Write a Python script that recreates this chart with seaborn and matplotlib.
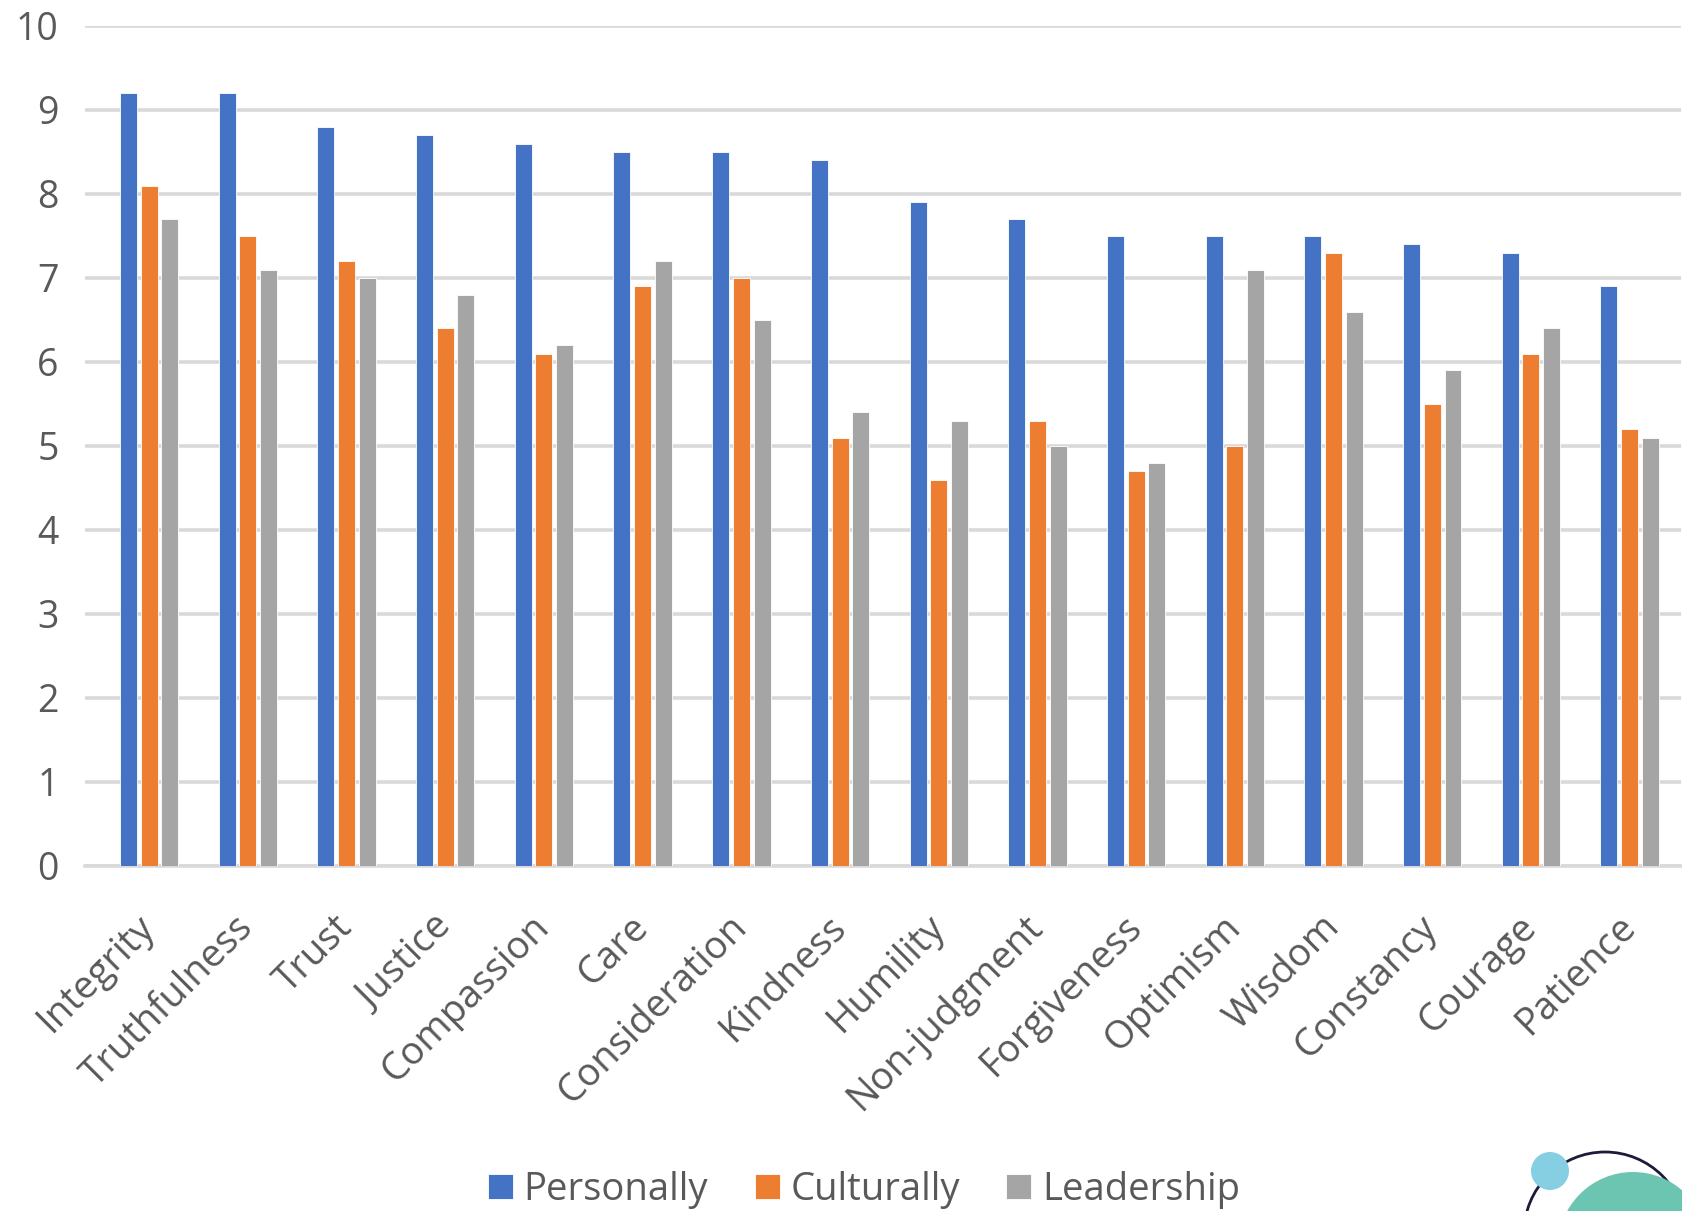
import numpy as np
import pandas as pd
import matplotlib
matplotlib.use("Agg")
import matplotlib.pyplot as plt
import seaborn as sns
from matplotlib.patches import Circle

categories = ["Integrity", "Truthfulness", "Trust", "Justice", "Compassion", "Care",
              "Consideration", "Kindness", "Humility", "Non-judgment", "Forgiveness",
              "Optimism", "Wisdom", "Constancy", "Courage", "Patience"]
personally = [9.2, 9.2, 8.8, 8.7, 8.6, 8.5, 8.5, 8.4, 7.9, 7.7, 7.5, 7.5, 7.5, 7.4, 7.3, 6.9]
culturally = [8.1, 7.5, 7.2, 6.4, 6.1, 6.9, 7.0, 5.1, 4.6, 5.3, 4.7, 5.0, 7.3, 5.5, 6.1, 5.2]
leadership = [7.7, 7.1, 7.0, 6.8, 6.2, 7.2, 6.5, 5.4, 5.3, 5.0, 4.8, 7.1, 6.6, 5.9, 6.4, 5.1]
series_names = ["Personally", "Culturally", "Leadership"]
y_ticks = [0, 1, 2, 3, 4, 5, 6, 7, 8, 9, 10]

colors = {"Personally": "#4472C4", "Culturally": "#ED7D31", "Leadership": "#A5A5A5"}

df = pd.DataFrame({
    "Value": personally + culturally + leadership,
    "Category": categories * 3,
    "Series": [s for s in series_names for _ in categories],
})

sns.set_theme(style="white")
plt.rcParams["font.family"] = ["Open Sans", "DejaVu Sans"]
text_color = "#595959"
grid_color = "#D9D9D9"

W, H = 1683, 1211
fig = plt.figure(figsize=(W / 100, H / 100), dpi=100)
ax = fig.add_axes([85 / W, 1 - 866 / H, (1681 - 85) / W, (866 - 26) / H])

sns.barplot(data=df, x="Category", y="Value", hue="Series", order=categories,
            hue_order=series_names, palette=colors, width=0.63, gap=0.18,
            saturation=1, edgecolor="white", linewidth=0.6, ax=ax, legend=True, zorder=3)

ax.set_ylim(0, 10)
ax.set_xlim(-0.65, 15.52)
ax.set_yticks(y_ticks)
ax.yaxis.grid(True, color=grid_color, linewidth=2.6, zorder=0)
ax.set_axisbelow(True)
for s in ["top", "right", "left"]:
    ax.spines[s].set_visible(False)
ax.spines["bottom"].set_color(grid_color)
ax.spines["bottom"].set_linewidth(2.6)
ax.set_xlabel("")
ax.set_ylabel("")
ax.tick_params(axis="y", length=0, pad=19, labelsize=27, labelcolor=text_color)
ax.tick_params(axis="x", length=0, pad=40, labelsize=27.5, labelcolor=text_color)
for lbl in ax.get_xticklabels():
    lbl.set_rotation(45)
    lbl.set_ha("right")
    lbl.set_va("center")
    lbl.set_rotation_mode("anchor")

handles, labels = ax.get_legend_handles_labels()
ax.get_legend().remove()
fig.legend(handles, labels, loc="center", bbox_to_anchor=(864 / W, 1 - 1190 / H),
           ncol=3, frameon=False, fontsize=27.5, labelcolor=text_color,
           handlelength=0.65, handleheight=0.65, handletextpad=0.28, columnspacing=1.22)

# decorative logo fragment in the bottom-right corner
arc = Circle((1605, -22), 81, transform=None, fill=False, edgecolor="#1c1b3a", linewidth=2.0)
teal = Circle((1633, -36), 75, transform=None, facecolor="#6CC5B0", edgecolor="none")
dot = Circle((1550, 40), 19, transform=None, facecolor="#86CFE2", edgecolor="none")
for p in (arc, teal, dot):
    fig.add_artist(p)

fig.savefig("out.png", dpi=100, facecolor="white")
